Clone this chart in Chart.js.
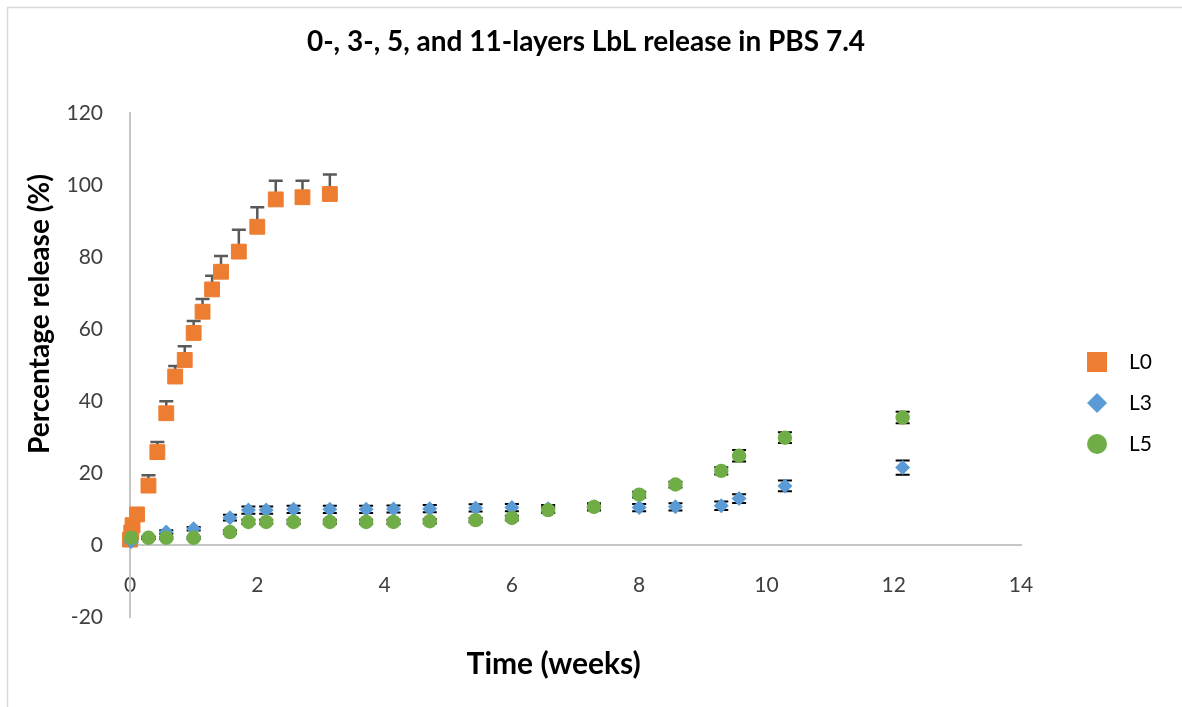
<!DOCTYPE html>
<html>
<head>
<meta charset="utf-8">
<title>LbL release in PBS 7.4</title>
<script src="https://cdn.jsdelivr.net/npm/chart.js@4.4.1/dist/chart.umd.min.js"></script>
<style>
  body { margin: 0; background: #fff; }
</style>
</head>
<body>
<canvas id="myChart" width="1182" height="707"></canvas>
<script>
// Values: time in weeks, release in %
const l0Weeks = [0, 0.02, 0.04, 0.11, 0.29, 0.43, 0.57, 0.71, 0.86, 1.0, 1.14, 1.29, 1.43, 1.71, 2.0, 2.29, 2.71, 3.14];
const l0Release = [1.5, 3.5, 5.5, 8.5, 16.5, 25.8, 36.6, 46.8, 51.4, 58.9, 64.8, 71.0, 75.9, 81.5, 88.4, 96.0, 96.6, 97.5];
const l0Error = [0.5, 0.5, 0.5, 0.5, 2.9, 2.8, 3.3, 2.9, 3.8, 3.3, 3.5, 3.8, 4.4, 6.1, 5.4, 5.2, 4.6, 5.4];

// L3 and L5 share the same sampling times
const weeks = [0.02, 0.29, 0.57, 1.0, 1.57, 1.86, 2.14, 2.57, 3.14, 3.71, 4.14, 4.71, 5.43, 6.0, 6.57, 7.29, 8.0, 8.57, 9.29, 9.57, 10.29, 12.14];
const l3Release = [1.0, 2.0, 3.6, 4.5, 7.6, 9.7, 9.7, 9.9, 9.9, 9.9, 10.0, 10.1, 10.3, 10.4, 10.1, 10.6, 10.4, 10.6, 10.9, 12.9, 16.4, 21.5];
const l3Error = [0.3, 0.3, 0.5, 0.5, 0.8, 1.0, 1.0, 1.0, 1.0, 1.0, 1.0, 1.0, 1.0, 1.0, 1.0, 1.0, 1.0, 1.0, 1.2, 1.2, 1.5, 2.0];
const l5Release = [2.0, 2.0, 2.0, 2.0, 3.6, 6.4, 6.4, 6.4, 6.4, 6.4, 6.4, 6.6, 6.9, 7.5, 9.7, 10.6, 14.0, 16.8, 20.6, 24.8, 29.8, 35.4];
const l5Error = [0.3, 0.3, 0.3, 0.3, 0.5, 0.6, 0.6, 0.6, 0.6, 0.6, 0.6, 0.6, 0.6, 0.6, 0.8, 0.8, 0.8, 0.8, 1.0, 1.6, 1.5, 1.6];

const seriesNames = ['L0', 'L3', 'L5'];
const seriesColors = ['#ED7D31', '#5B9BD5', '#70AD47'];

function toPoints(xs, ys) {
  return xs.map((x, i) => ({ x: x, y: ys[i] }));
}

// Small canvas icons so the legend markers have the same size as in Excel
function legendIcon(shape, color) {
  const c = document.createElement('canvas');
  c.width = 22;
  c.height = 22;
  const g = c.getContext('2d');
  g.fillStyle = color;
  g.beginPath();
  if (shape === 'rect') {
    g.rect(1, 1, 20, 20);
  } else if (shape === 'diamond') {
    g.moveTo(11, 1);
    g.lineTo(21, 11);
    g.lineTo(11, 21);
    g.lineTo(1, 11);
    g.closePath();
  } else {
    g.arc(11, 11, 10, 0, Math.PI * 2);
  }
  g.fill();
  return c;
}
const legendIcons = [
  legendIcon('rect', seriesColors[0]),
  legendIcon('diamond', seriesColors[1]),
  legendIcon('circle', seriesColors[2]),
];

// Error bars, drawn under the markers
const errorBars = {
  id: 'errorBars',
  beforeDatasetsDraw(chart) {
    const { ctx, scales: { x, y } } = chart;
    chart.data.datasets.forEach((ds) => {
      ctx.save();
      ctx.strokeStyle = ds.errorColor;
      ctx.lineWidth = ds.errorWidth;
      ds.data.forEach((p, i) => {
        const e = ds.errors[i];
        const px = x.getPixelForValue(p.x);
        const top = y.getPixelForValue(p.y + e);
        const bottom = y.getPixelForValue(ds.bothSides ? p.y - e : p.y);
        ctx.beginPath();
        ctx.moveTo(px, top);
        ctx.lineTo(px, bottom);
        ctx.moveTo(px - 7, top);
        ctx.lineTo(px + 7, top);
        if (ds.bothSides) {
          ctx.moveTo(px - 7, bottom);
          ctx.lineTo(px + 7, bottom);
        }
        ctx.stroke();
      });
      ctx.restore();
    });
  }
};

// thin grey frame of the chart object
const frame = {
  id: 'frame',
  beforeDraw(chart) {
    const ctx = chart.ctx;
    ctx.save();
    ctx.strokeStyle = '#d9d9d9';
    ctx.lineWidth = 1.5;
    ctx.beginPath();
    ctx.moveTo(7.5, chart.height);
    ctx.lineTo(7.5, 7.5);
    ctx.lineTo(chart.width, 7.5);
    ctx.stroke();
    ctx.restore();
  }
};

Chart.defaults.font.family = "Lato, 'Open Sans', sans-serif";
Chart.defaults.color = '#404040';

const axisLine = { display: true, color: '#c6c6c6', width: 2 };
const noGrid = { display: false, drawTicks: false };

new Chart(document.getElementById('myChart'), {
  type: 'scatter',
  data: {
    datasets: [
      {
        label: seriesNames[0],
        data: toPoints(l0Weeks, l0Release),
        pointStyle: 'rect',
        radius: 10.5,
        hoverRadius: 10.5,
        backgroundColor: seriesColors[0],
        borderColor: seriesColors[0],
        borderWidth: 1,
        errors: l0Error,
        bothSides: false,
        errorColor: '#595959',
        errorWidth: 2.5,
        order: 2,
        clip: false,
      },
      {
        label: seriesNames[1],
        data: toPoints(weeks, l3Release),
        pointStyle: 'rectRot',
        radius: 7.5,
        hoverRadius: 7.5,
        backgroundColor: seriesColors[1],
        borderColor: seriesColors[1],
        borderWidth: 0,
        errors: l3Error,
        bothSides: true,
        errorColor: '#000000',
        errorWidth: 2,
        order: 1,
        clip: false,
      },
      {
        label: seriesNames[2],
        data: toPoints(weeks, l5Release),
        pointStyle: 'circle',
        radius: 7.2,
        hoverRadius: 7.2,
        backgroundColor: seriesColors[2],
        borderColor: seriesColors[2],
        borderWidth: 0,
        errors: l5Error,
        bothSides: true,
        errorColor: '#000000',
        errorWidth: 2,
        order: 0,
        clip: false,
      },
    ],
  },
  options: {
    responsive: false,
    animation: false,
    events: [],
    layout: { padding: { left: 10, right: 20, top: 0, bottom: 90 } },
    scales: {
      x: {
        type: 'linear',
        position: { y: 0 },
        min: 0,
        max: 14,
        grid: noGrid,
        border: axisLine,
        ticks: { stepSize: 2, padding: 27.4, font: { size: 21 } },
        title: {
          display: true,
          // trailing spaces move the title a bit left, as in the original
          text: 'Time (weeks)' + ' '.repeat(6),
          color: '#000',
          font: { size: 30, weight: 'bold' },
          padding: { top: 21, bottom: 0 },
        },
      },
      y: {
        type: 'linear',
        position: 'left',
        min: -20,
        max: 120,
        grid: noGrid,
        border: axisLine,
        ticks: { stepSize: 20, padding: 27, font: { size: 21 } },
        title: {
          display: true,
          // leading spaces lift the title above the plot centre, as in the original
          text: ' '.repeat(15) + 'Percentage release (%)',
          color: '#000',
          font: { size: 28, weight: 'bold' },
          padding: { top: 13.2, bottom: 0 },
        },
        afterFit(scale) { scale.width = 120; },
      },
      // empty spacer between plot and legend
      gap: {
        type: 'linear',
        position: 'right',
        grid: noGrid,
        border: { display: false },
        ticks: { display: false },
        afterFit(scale) { scale.width = 34.5; },
      },
    },
    plugins: {
      title: {
        display: true,
        text: '0-, 3-, 5, and 11-layers LbL release in PBS 7.4',
        color: '#000',
        font: { size: 28, weight: 'bold' },
        padding: { top: 25.2, bottom: 54.2 },
      },
      legend: {
        position: 'right',
        align: 'center',
        title: { display: true, text: ' ', font: { size: 10 }, padding: { top: 177, bottom: 0 } },
        labels: {
          usePointStyle: true,
          pointStyleWidth: 43,
          padding: 20,
          color: '#000',
          font: { size: 21 },
          sort: (a, b) => a.datasetIndex - b.datasetIndex,
          generateLabels(chart) {
            const items = Chart.defaults.plugins.legend.labels.generateLabels(chart);
            items.forEach((item) => { item.pointStyle = legendIcons[item.datasetIndex]; });
            return items;
          },
        },
      },
      tooltip: { enabled: false },
    },
  },
  plugins: [frame, errorBars],
});
</script>
</body>
</html>
